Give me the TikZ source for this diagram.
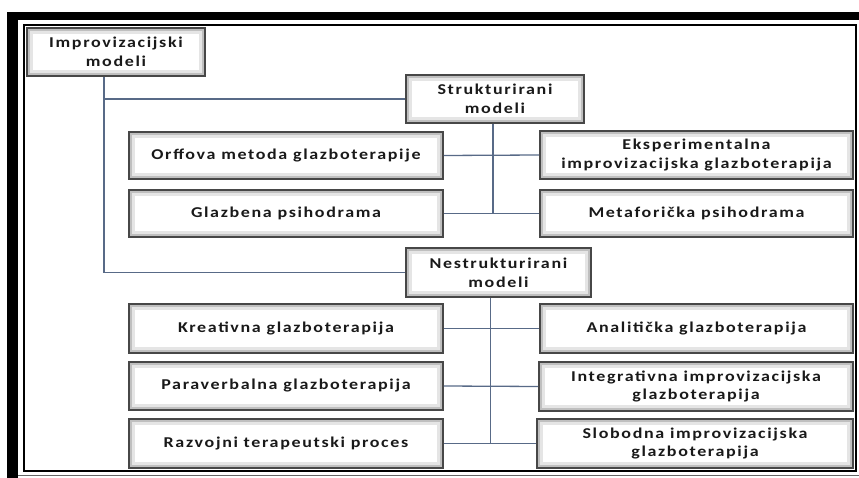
\documentclass[tikz,border=0pt]{standalone}
\usepackage{fontspec}
\setmainfont{Carlito}[FakeStretch=1.2, LetterSpace=11]
\definecolor{connc}{RGB}{88,106,135}
\begin{document}
\begin{tikzpicture}[x=1pt,y=-1pt,
  box/.style={draw=black!72, line width=1.8pt, fill=white, inner sep=0pt,
    align=center, font=\fontsize{15}{18.8}\selectfont\bfseries, text=black!90,
    path picture={\draw[black!10, line width=12pt] (path picture bounding box.south west) rectangle (path picture bounding box.north east);
                  \draw[black!25, line width=6pt] (path picture bounding box.south west) rectangle (path picture bounding box.north east);}},
  conn/.style={draw=connc, line width=1.3pt}]
\useasboundingbox (0,0) rectangle (859,478);
% frame
\fill[black] (7,12) rectangle (859,20.5);
\fill[black] (7,12) rectangle (18,478);
\draw[black, line width=2pt] (23.5,25.5) rectangle (855.5,471);
\draw[black!60, line width=1pt] (18,475.5) -- (859,475.5);
% boxes
\node[box, minimum width=178pt, minimum height=48pt] (imp) at (116,52) {Improvizacijski\\modeli};
\node[box, minimum width=178pt, minimum height=48pt] (str) at (495,99) {Strukturirani\\modeli};
\node[box, minimum width=314pt, minimum height=47pt] (orf) at (286,155.5) {Orffova metoda glazboterapije};
\node[box, minimum width=314pt, minimum height=47pt] (glz) at (286,213.5) {Glazbena psihodrama};
\node[box, minimum width=313pt, minimum height=48pt] (eks) at (696.5,155) {Eksperimentalna\\improvizacijska glazboterapija};
\node[box, minimum width=313pt, minimum height=47pt] (met) at (696.5,213.5) {Metaforička psihodrama};
\node[box, minimum width=185pt, minimum height=49pt] (nes) at (498.5,272.5) {Nestrukturirani\\modeli};
\node[box, minimum width=314pt, minimum height=49pt] (kre) at (286,328.5) {Kreativna glazboterapija};
\node[box, minimum width=314pt, minimum height=48pt] (par) at (286,386) {Paraverbalna glazboterapija};
\node[box, minimum width=314pt, minimum height=49pt] (raz) at (286,443.5) {Razvojni terapeutski proces};
\node[box, minimum width=313pt, minimum height=49pt] (ana) at (696.5,328.5) {Analitička glazboterapija};
\node[box, minimum width=314pt, minimum height=49pt] (int) at (696,386.5) {Integrativna improvizacijska\\glazboterapija};
\node[box, minimum width=316pt, minimum height=49pt] (slo) at (695,443.5) {Slobodna improvizacijska\\glazboterapija};
% connectors
\draw[conn] ([xshift=-12pt]imp.south) |- (str.west);
\draw[conn] ([xshift=-12pt]imp.south) |- (nes.west);
\draw[conn] ([xshift=-2pt]str.south) -- ([xshift=-2pt]str.south |- glz.east);
\draw[conn] (orf.east) -- (eks.west);
\draw[conn] (glz.east) -- (met.west);
\draw[conn] ([xshift=-8pt]nes.south) -- ([xshift=-8pt]nes.south |- raz.east);
\draw[conn] (kre.east) -- (ana.west);
\draw[conn] (par.east) -- (int.west);
\draw[conn] (raz.east) -- (slo.west);
\end{tikzpicture}
\end{document}
